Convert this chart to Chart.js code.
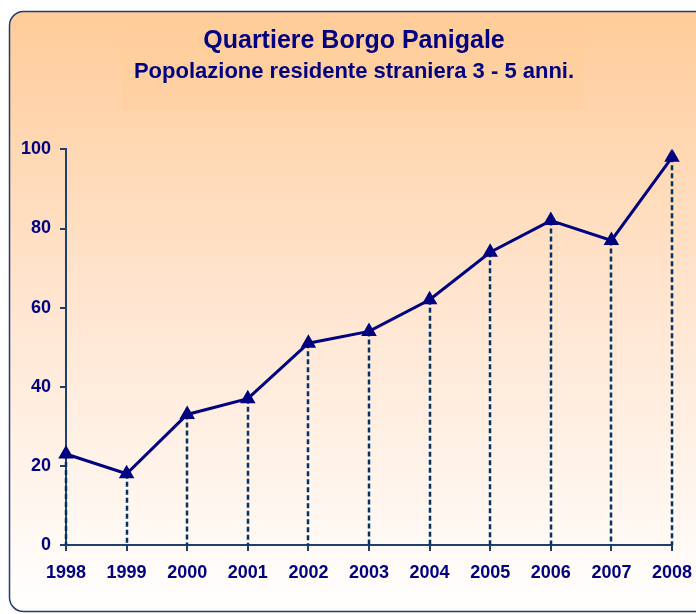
<!DOCTYPE html>
<html>
<head>
<meta charset="utf-8">
<script src="https://cdn.jsdelivr.net/npm/chart.js@4.4.0/dist/chart.umd.min.js"></script>
<style>
  html, body { margin: 0; padding: 0; background: #fff; }
  #wrap { width: 696px; height: 614px; position: relative; }
</style>
</head>
<body>
<div id="wrap"><canvas id="grafico"></canvas></div>
<script>
const anni = ['1998','1999','2000','2001','2002','2003','2004','2005','2006','2007','2008'];
const residenti = [23, 18, 33, 37, 51, 54, 62, 74, 82, 77, 98];
const tickY = [0, 20, 40, 60, 80, 100];

const navy = '#000080';
const axisColor = '#1F3F6F';

// sfondo arrotondato con sfumatura + riquadro titolo
const sfondo = {
  id: 'sfondo',
  beforeDraw(chart) {
    const c = chart.ctx;
    c.save();
    c.fillStyle = '#ffffff';
    c.fillRect(0, 0, chart.width, chart.height);
    const g = c.createLinearGradient(0, 11, 0, 612);
    g.addColorStop(0, '#FFCC99');
    g.addColorStop(0.5, '#FFE6D2');
    g.addColorStop(1, '#FFFFFF');
    c.beginPath();
    c.roundRect(9.5, 11.5, 700, 600, 14);
    c.fillStyle = g;
    c.fill();
    c.fillStyle = 'rgba(255,204,153,0.4)';
    c.fillRect(122, 24, 462, 86);
    c.strokeStyle = axisColor;
    c.lineWidth = 1.5;
    c.beginPath();
    c.roundRect(9.5, 11.5, 700, 600, 14);
    c.stroke();
    c.restore();
  }
};

// linee tratteggiate dai punti all'asse x
const lineeVerticali = {
  id: 'lineeVerticali',
  beforeDatasetsDraw(chart) {
    const c = chart.ctx;
    const base = chart.scales.y.getPixelForValue(0);
    const meta = chart.getDatasetMeta(0);
    c.save();
    c.strokeStyle = '#003366';
    c.lineWidth = 2.5;
    c.setLineDash([5, 3]);
    meta.data.forEach(p => {
      c.beginPath();
      c.moveTo(Math.round(p.x), p.y);
      c.lineTo(Math.round(p.x), base);
      c.stroke();
    });
    c.restore();
  }
};

new Chart(document.getElementById('grafico'), {
  type: 'line',
  data: {
    labels: anni,
    datasets: [{
      data: residenti,
      borderColor: navy,
      borderWidth: 3,
      backgroundColor: navy,
      pointStyle: 'triangle',
      pointRadius: 6,
      pointBackgroundColor: navy,
      pointBorderColor: navy,
      tension: 0
    }]
  },
  options: {
    responsive: true,
    maintainAspectRatio: false,
    animation: false,
    layout: { padding: { left: 0, right: -12, top: 0, bottom: 30 } },
    plugins: {
      legend: { display: false },
      tooltip: { enabled: false },
      title: {
        display: true,
        text: 'Quartiere Borgo Panigale',
        color: navy,
        font: { family: 'Liberation Sans, Arial', size: 25, weight: 'bold' },
        padding: { top: 26, bottom: 3 }
      },
      subtitle: {
        display: true,
        text: 'Popolazione residente straniera 3 - 5 anni.',
        color: navy,
        font: { family: 'Liberation Sans, Arial', size: 22, weight: 'bold' },
        padding: { top: 0, bottom: 64 }
      }
    },
    scales: {
      x: {
        offset: false,
        grid: { drawOnChartArea: false, drawTicks: true, tickLength: 6, color: axisColor, lineWidth: 2 },
        border: { color: axisColor, width: 2 },
        ticks: {
          color: navy, padding: 11, maxRotation: 0, autoSkip: false,
          font: { family: 'Liberation Sans, Arial', size: 18, weight: 'bold' }
        },
        afterFit: s => { s.height = 39; s.paddingLeft = 0; s.paddingRight = 0; }
      },
      y: {
        min: 0, max: 100,
        afterBuildTicks: s => { s.ticks = tickY.map(v => ({ value: v })); },
        grid: { drawOnChartArea: false, drawTicks: true, tickLength: 6, color: axisColor, lineWidth: 2 },
        border: { color: axisColor, width: 2 },
        ticks: {
          color: navy, padding: 9,
          font: { family: 'Liberation Sans, Arial', size: 18, weight: 'bold' }
        },
        afterFit: s => { s.width = 66; }
      },
      // asse vuoto a destra, solo per lo spazio
      y2: {
        position: 'right',
        min: 0, max: 100,
        grid: { drawOnChartArea: false, drawTicks: false },
        border: { display: false },
        ticks: { display: false },
        afterFit: s => { s.width = 36; }
      }
    }
  },
  plugins: [sfondo, lineeVerticali]
});
</script>
</body>
</html>
